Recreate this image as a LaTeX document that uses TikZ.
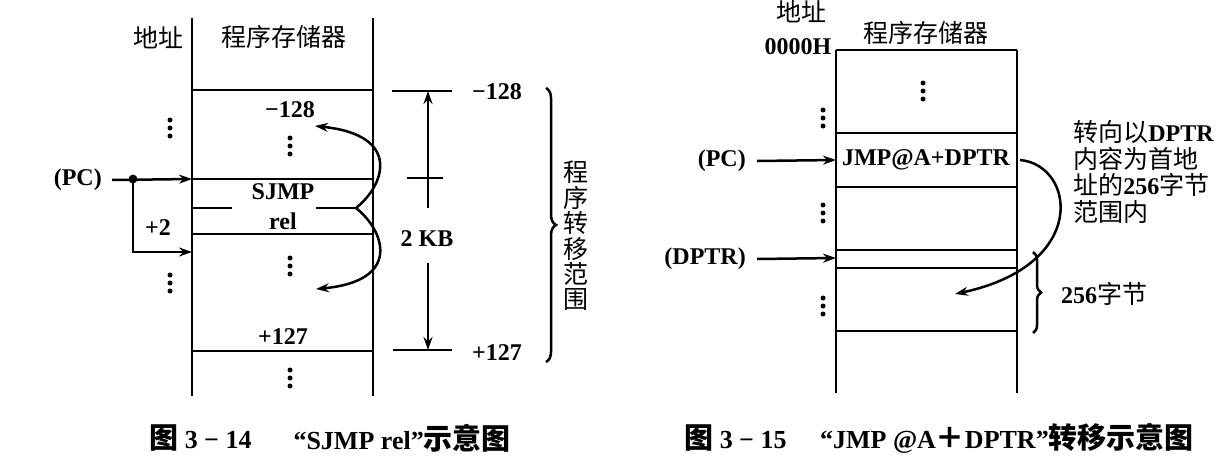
\documentclass[tikz,border=0pt]{standalone}
\usepackage{fontspec}
\setmainfont{Liberation Serif}
\newfontfamily\cjk{Noto Sans CJK SC}
\usetikzlibrary{arrows.meta,decorations.pathreplacing}
\newcommand\vdotsat[2]{\foreach \dd in {-8,0,8}{\fill (#1,#2+\dd) circle (1.25pt);}}
\newcommand\capcjk[1]{{\cjk\bfseries\fontsize{14.5}{16}\selectfont #1}}
\begin{document}
\begin{tikzpicture}[x=0.5pt,y=-0.5pt,line width=1.25pt,
  font=\bfseries\fontsize{12}{14}\selectfont,
  every node/.style={inner sep=0pt},
  cn/.style={font=\cjk\mdseries\fontsize{12.5}{14}\selectfont},
  captext/.style={font=\bfseries\fontsize{13}{15}\selectfont},
  arr/.style={-{Stealth[length=6.5pt,width=4.5pt]}},
  bracestyle/.style={decorate,decoration={brace,amplitude=#1}}]
\useasboundingbox (0,0) rectangle (1224,455);

% ================= left diagram =================
\draw (192,18) -- (192,396);
\draw (373,18) -- (373,396);
\node[cn] (hdrL) at (284,37) {程序存储器};
\node[cn] (addrL) at (158,38) {地址};
\draw (192,90) -- (373,90);
\node (m128) at (290,110) {−128};
\vdotsat{290}{146}
\vdotsat{170}{128}
\draw (192,179) -- (373,179);
\node[anchor=east] (pcL) at (103,180) {(PC)};
\coordinate (pcdot) at (133,179);
\coordinate (colA) at (192,179);
\coordinate (colB) at (192,252);
\fill (pcdot) circle (2.2pt);
\draw[arr] (pcL.east) ++(9,0) -- (colA);
\draw[arr] (pcdot) |- (colB);
\node (plus2) at (158,228) {+2};
\node (sjmp) at (283,192) {SJMP};
\node (rel) at (283,221) {rel};
\coordinate (br) at (356,208);
\draw (192,208) -- (232,208);
\draw (316,208) -- (br);
\draw (192,234) -- (373,234);
\vdotsat{290}{266}
\vdotsat{170}{283}
\node (p127) at (283,337) {+127};
\draw (192,351) -- (373,351);
\vdotsat{290}{378}
\coordinate (upT) at (315,126);
\coordinate (dnT) at (316,289);
\draw[arr] (br) .. controls (385,185) and (402,135) .. (upT);
\draw[arr] (br) .. controls (385,231) and (402,281) .. (dnT);

% range markers
\draw (392,91) -- (452,91);
\draw (393,350) -- (452,350);
\node (r128) at (497,92) {−128};
\node (r127) at (497,353) {+127};
\node (kb) at (427,239) {2 KB};
\coordinate (kbU0) at (428,208);
\coordinate (kbU1) at (428,91);
\coordinate (kbD0) at (428,263);
\coordinate (kbD1) at (428,350);
\draw[arr] (kbU0) -- (kbU1);
\draw[arr] (kbD0) -- (kbD1);
\draw (407,178) -- (443,178);
\draw[bracestyle=5pt] (546,88) -- (546,362);
\node[cn,align=center,font=\cjk\mdseries\fontsize{12.5}{12.7}\selectfont] (rangeL) at (576,236) {程\\序\\转\\移\\范\\围};

% caption left
\node[captext,anchor=west] (capL1) at (148,438) {\capcjk{图} 3 − 14};
\node[captext,anchor=east] (capL2) at (512,438) {“SJMP rel”\capcjk{示意图}};

% ================= right diagram =================
\draw (836,50) -- (836,393);
\draw (1017,50) -- (1017,393);
\draw (836,50) -- (1017,50);
\node[cn] (hdrR) at (926,33) {程序存储器};
\node[cn] (addrR) at (801,12) {地址};
\node (zero) at (798,47) {0000H};
\vdotsat{923}{91}
\vdotsat{823}{118}
\draw (836,133) -- (1017,133);
\node (jmp) at (926,160) {JMP@A+DPTR};
\draw (836,187) -- (1017,187);
\vdotsat{823}{213}
\draw (836,250) -- (1017,250);
\draw (836,268) -- (1017,268);
\vdotsat{823}{306}
\draw (836,331) -- (1017,331);
\node[anchor=east] (pcR) at (747,161) {(PC)};
\node[anchor=east] (dptr) at (747,259) {(DPTR)};
\coordinate (colC) at (836,160);
\coordinate (colD) at (836,258);
\draw[arr] (pcR.east) ++(10,0) -- (colC);
\draw[arr] (dptr.east) ++(10,0) -- (colD);
\coordinate (jS) at (1020,160);
\coordinate (jT) at (955,294);
\draw[arr] (jS) .. controls (1075,165) and (1090,265) .. (jT);
\draw[bracestyle=4pt] (1033,252) -- (1033,333);
\node (b256) at (1104,294) {256{\cjk\mdseries\fontsize{12.5}{14}\selectfont 字节}};
\node[anchor=west,align=left,font=\bfseries\fontsize{12}{13.2}\selectfont] (note) at (1072,172)
  {{\cjk\mdseries\fontsize{12.5}{13.2}\selectfont 转向以}DPTR\\{\cjk\mdseries\fontsize{12.5}{13.2}\selectfont 内容为首地}\\{\cjk\mdseries\fontsize{12.5}{13.2}\selectfont 址的}256{\cjk\mdseries\fontsize{12.5}{13.2}\selectfont 字节}\\{\cjk\mdseries\fontsize{12.5}{13.2}\selectfont 范围内}};

% caption right
\node[captext,anchor=west] (capR1) at (683,438) {\capcjk{图} 3 − 15};
\node[captext,anchor=east] (capR2) at (1195,438) {“JMP @A\capcjk{＋}DPTR”\capcjk{转移示意图}};
\end{tikzpicture}
\end{document}
